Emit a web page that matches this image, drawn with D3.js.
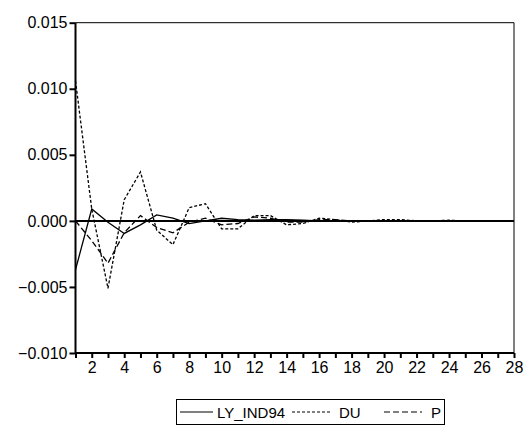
<!DOCTYPE html>
<html>
<head>
<meta charset="utf-8">
<script src="https://cdn.jsdelivr.net/npm/d3@7"></script>
<style>
  body { margin: 0; background: #fff; }
  text { font-family: Arial, "Liberation Sans", sans-serif; fill: #000; }
</style>
</head>
<body>
<div id="chart"></div>
<script>
// Size of the whole picture
var width = 525;
var height = 427;

// Data
var periods = d3.range(1, 29);
var lyInd94 = [-0.0037, 0.0009, -0.0001, -0.00095, -0.0003, 0.00045, 0.0002, -0.0002, 0.0000, 0.0002,
               0.0001, 0.00005, 0.0001, 0.0001, 0.00005, 0.0000, 0.0000, 0.0000, 0.0000, 0.0000,
               0.0000, 0.0000, 0.0000, 0.0000, 0.0000, 0.0000, 0.0000, 0.0000];
var du = [0.0106, 0.0009, -0.0051, 0.0016, 0.0037, -0.0007, -0.0018, 0.0010, 0.0013, -0.0006,
          -0.0006, 0.0004, 0.0004, -0.0003, -0.0002, 0.0002, 0.0001, -0.0001, 0.0000, 0.0001,
          0.0001, 0.0000, 0.0000, 0.00005, 0.0000, 0.0000, 0.0000, 0.0000];
var p = [0.0000, -0.0015, -0.0032, -0.0009, 0.0004, -0.0005, -0.0009, -0.0001, 0.0002, -0.0003,
         -0.0002, 0.0003, 0.0002, -0.0001, -0.0001, 0.0001, 0.0001, 0.0000, 0.0000, 0.0000,
         0.0000, 0.0000, 0.0000, 0.0000, 0.0000, 0.0000, 0.0000, 0.0000];
var yTicks = [-0.010, -0.005, 0.000, 0.005, 0.010, 0.015];

var series = [
  { name: "LY_IND94", values: lyInd94, dash: null },
  { name: "DU", values: du, dash: "3,2" },
  { name: "P", values: p, dash: "6,3" }
];

var svg = d3.select("#chart")
  .append("svg")
  .attr("width", width)
  .attr("height", height);

// Scales
var x = d3.scaleLinear().domain([1, 28]).range([75.5, 514]);
var y = d3.scaleLinear().domain([-0.010, 0.015]).range([353, 22.7]);

// Frame (top and right thin)
svg.append("path")
  .attr("d", "M" + x(1) + "," + y(0.015) + "H" + x(28) + "V" + y(-0.010))
  .style("fill", "none")
  .style("stroke", "#000")
  .style("stroke-width", 1);

// Y axis
var yAxis = d3.axisLeft(y)
  .tickValues(yTicks)
  .tickSize(6)
  .tickFormat(d3.format(".3f"));

var gy = svg.append("g")
  .attr("transform", "translate(" + x(1) + ",0)")
  .call(yAxis);
gy.select(".domain").attr("d", "M0," + y(0.015) + "V" + y(-0.010)).style("stroke-width", 2);
gy.selectAll(".tick line").style("stroke-width", 2);
gy.selectAll(".tick text")
  .attr("x", -8)
  .style("font-size", "16px")
  .style("font-family", "Arial, 'Liberation Sans', sans-serif");

// X axis, tick at every period, labels on even ones
var xAxis = d3.axisBottom(x)
  .tickValues(periods)
  .tickSize(5)
  .tickFormat(function(d) { return d % 2 == 0 ? d : ""; });

var gx = svg.append("g")
  .attr("transform", "translate(0," + y(-0.010) + ")")
  .call(xAxis);
gx.select(".domain").attr("d", "M" + x(1) + ",0H" + x(28)).style("stroke-width", 2);
gx.selectAll(".tick line").style("stroke-width", 2);
gx.selectAll(".tick text")
  .attr("y", 9)
  .style("font-size", "16px")
  .style("font-family", "Arial, 'Liberation Sans', sans-serif");

// Zero line
svg.append("line")
  .attr("x1", x(1)).attr("x2", x(28))
  .attr("y1", y(0)).attr("y2", y(0))
  .style("stroke", "#000")
  .style("stroke-width", 2);

// Lines
var line = d3.line()
  .x(function(d, i) { return x(periods[i]); })
  .y(function(d) { return y(d); });

svg.selectAll(".series")
  .data(series)
  .enter().append("path")
  .attr("class", "series")
  .attr("d", function(d) { return line(d.values); })
  .style("fill", "none")
  .style("stroke", "#000")
  .style("stroke-width", 1.3)
  .style("stroke-dasharray", function(d) { return d.dash; });

// Legend
var legend = svg.append("g").attr("class", "legend");
legend.append("rect")
  .attr("x", 176.5).attr("y", 399.5)
  .attr("width", 268).attr("height", 25)
  .style("fill", "none")
  .style("stroke", "#000")
  .style("stroke-width", 1);

var legendItems = [
  { x1: 180, x2: 213, tx: 217 },
  { x1: 292, x2: 330, tx: 339 },
  { x1: 384, x2: 422, tx: 431 }
];

legendItems.forEach(function(it, i) {
  legend.append("line")
    .attr("x1", it.x1).attr("x2", it.x2)
    .attr("y1", 412).attr("y2", 412)
    .style("stroke", "#000")
    .style("stroke-width", 1)
    .style("stroke-dasharray", series[i].dash);
  legend.append("text")
    .attr("x", it.tx).attr("y", 418)
    .style("font-size", "15px")
    .text(series[i].name);
});
</script>
</body>
</html>
